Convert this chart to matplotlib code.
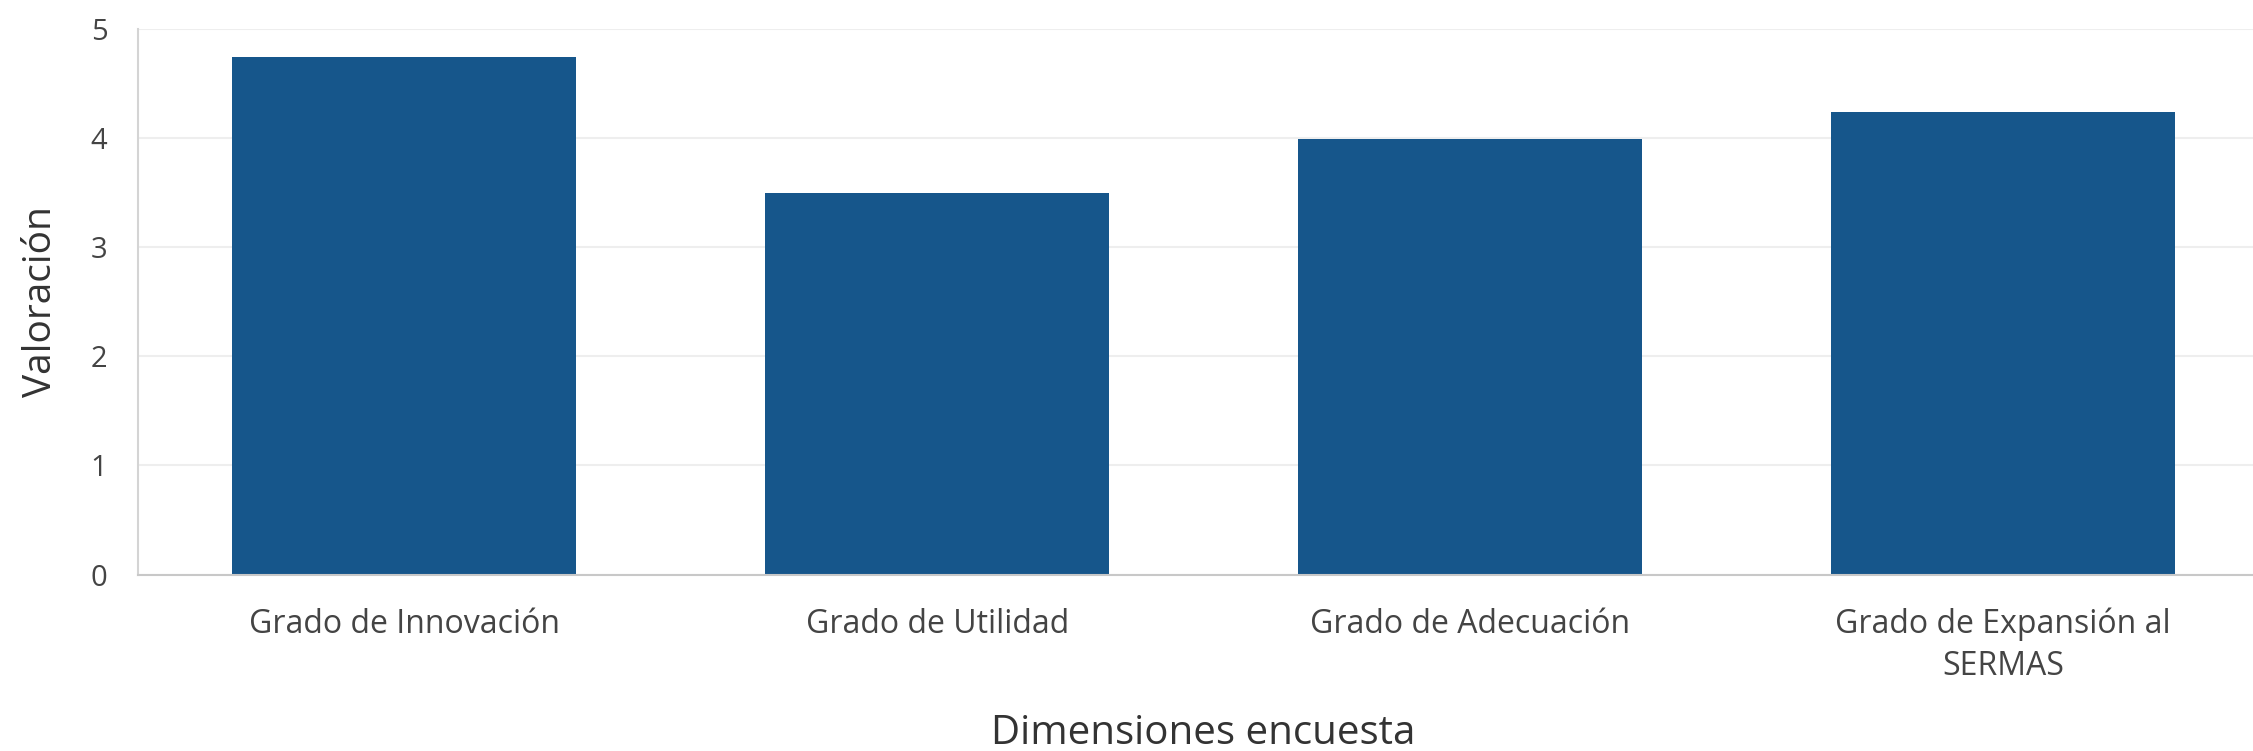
import matplotlib.pyplot as plt

categorias = ['Grado de Innovación', 'Grado de Utilidad', 'Grado de Adecuación',
              'Grado de Expansión al\nSERMAS']
valoracion = [4.74, 3.49, 3.99, 4.24]

plt.rcParams['font.family'] = ['Open Sans', 'DejaVu Sans']

fig = plt.figure(figsize=(22.53, 7.51), dpi=100)
ax = fig.add_axes([0.0612, 0.235, 0.946, 0.727])

x = list(range(len(categorias)))
ax.bar(x, valoracion, width=0.645, color='#16568b', zorder=2)

ax.set_xlim(-0.5, 3.5)
ax.set_ylim(0, 5)
ax.set_yticks([0, 1, 2, 3, 4, 5])
ax.set_xticks(x)
ax.set_xticklabels(categorias, fontsize=23, color='#444444', linespacing=1.35)
ax.tick_params(axis='y', labelsize=21, colors='#444444', length=0, pad=22)
ax.tick_params(axis='x', length=0, pad=24)

ax.grid(axis='y', color='#eeeeee', linewidth=1.5, zorder=0)
ax.set_axisbelow(True)
for s in ['top', 'right']:
    ax.spines[s].set_visible(False)
ax.spines['left'].set_color('#d4d4d4')
ax.spines['bottom'].set_color('#c8c8c8')
ax.spines['left'].set_linewidth(1.5)
ax.spines['bottom'].set_linewidth(1.5)

ax.set_ylabel('Valoración', fontsize=28, color='#333333', labelpad=22)
ax.set_xlabel('Dimensiones encuesta', fontsize=29, color='#333333', va='center')
ax.xaxis.set_label_coords(0.5, -0.292)

fig.savefig('out.png', dpi=100)
